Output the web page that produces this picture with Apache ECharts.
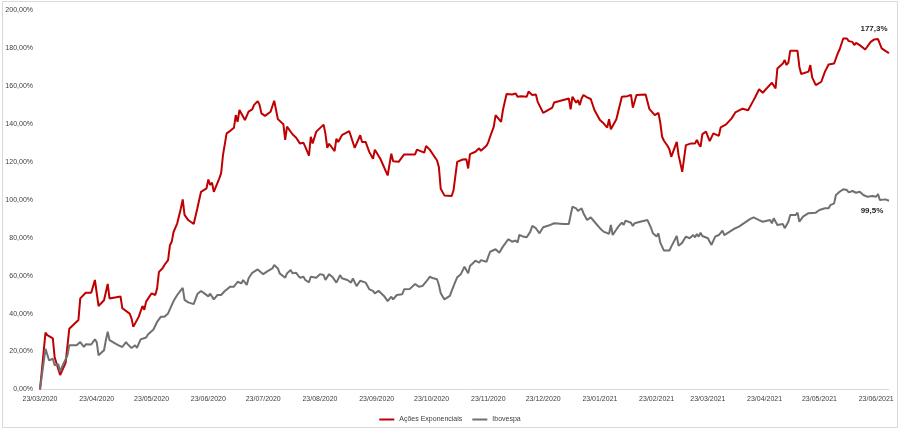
<!DOCTYPE html>
<html>
<head>
<meta charset="utf-8">
<script src="https://cdn.jsdelivr.net/npm/echarts@6/dist/echarts.min.js"></script>
<style>
html,body{margin:0;padding:0;background:#fff;}
#chart{width:900px;height:430px;}
</style>
</head>
<body>
<div id="chart"></div>
<script>
// ---- data ----
const seriesNames = ['Ações Exponenciais', 'Ibovespa'];
const xTickDates = ['2020-03-23','2020-04-23','2020-05-23','2020-06-23','2020-07-23','2020-08-23','2020-09-23','2020-10-23','2020-11-23','2020-12-23','2021-01-23','2021-02-23','2021-03-23','2021-04-23','2021-05-23','2021-06-23'];
const xStart = '2020-03-23';
const xEnd = '2021-06-30';
const yTicks = [0,20,40,60,80,100,120,140,160,180,200];

const acoesDates = ['2020-03-23','2020-03-26','2020-03-27','2020-03-30','2020-03-31','2020-04-03','2020-04-06','2020-04-08','2020-04-09','2020-04-13','2020-04-14','2020-04-15','2020-04-17','2020-04-20','2020-04-22','2020-04-23','2020-04-24','2020-04-27','2020-04-29','2020-04-30','2020-05-06','2020-05-07','2020-05-11','2020-05-12','2020-05-13','2020-05-16','2020-05-18','2020-05-19','2020-05-20','2020-05-21','2020-05-23','2020-05-25','2020-05-26','2020-05-27','2020-05-29','2020-05-30','2020-06-01','2020-06-02','2020-06-03','2020-06-04','2020-06-06','2020-06-08','2020-06-09','2020-06-10','2020-06-12','2020-06-15','2020-06-16','2020-06-17','2020-06-19','2020-06-22','2020-06-23','2020-06-24','2020-06-25','2020-06-26','2020-06-29','2020-06-30','2020-07-01','2020-07-02','2020-07-03','2020-07-05','2020-07-07','2020-07-08','2020-07-09','2020-07-10','2020-07-13','2020-07-15','2020-07-17','2020-07-18','2020-07-20','2020-07-21','2020-07-22','2020-07-24','2020-07-27','2020-07-29','2020-07-30','2020-07-31','2020-08-03','2020-08-04','2020-08-05','2020-08-08','2020-08-10','2020-08-11','2020-08-12','2020-08-14','2020-08-15','2020-08-17','2020-08-18','2020-08-19','2020-08-21','2020-08-22','2020-08-25','2020-08-26','2020-08-27','2020-08-28','2020-08-31','2020-09-01','2020-09-02','2020-09-04','2020-09-08','2020-09-11','2020-09-14','2020-09-15','2020-09-17','2020-09-19','2020-09-21','2020-09-22','2020-09-25','2020-09-29','2020-10-01','2020-10-02','2020-10-05','2020-10-07','2020-10-08','2020-10-14','2020-10-15','2020-10-19','2020-10-20','2020-10-22','2020-10-23','2020-10-26','2020-10-27','2020-10-28','2020-10-29','2020-10-30','2020-11-03','2020-11-04','2020-11-06','2020-11-09','2020-11-10','2020-11-11','2020-11-12','2020-11-13','2020-11-16','2020-11-18','2020-11-19','2020-11-22','2020-11-23','2020-11-24','2020-11-26','2020-11-27','2020-11-30','2020-12-01','2020-12-03','2020-12-06','2020-12-08','2020-12-09','2020-12-10','2020-12-11','2020-12-14','2020-12-15','2020-12-17','2020-12-19','2020-12-20','2020-12-23','2020-12-28','2020-12-29','2021-01-04','2021-01-06','2021-01-07','2021-01-08','2021-01-10','2021-01-11','2021-01-12','2021-01-13','2021-01-14','2021-01-16','2021-01-18','2021-01-20','2021-01-23','2021-01-25','2021-01-27','2021-01-28','2021-01-29','2021-02-01','2021-02-04','2021-02-05','2021-02-07','2021-02-09','2021-02-10','2021-02-12','2021-02-17','2021-02-19','2021-02-22','2021-02-24','2021-02-25','2021-02-26','2021-02-27','2021-03-01','2021-03-02','2021-03-03','2021-03-06','2021-03-07','2021-03-09','2021-03-11','2021-03-14','2021-03-15','2021-03-16','2021-03-17','2021-03-18','2021-03-19','2021-03-20','2021-03-22','2021-03-23','2021-03-24','2021-03-26','2021-03-29','2021-03-30','2021-04-02','2021-04-05','2021-04-07','2021-04-11','2021-04-14','2021-04-17','2021-04-18','2021-04-20','2021-04-22','2021-04-27','2021-04-28','2021-04-29','2021-04-30','2021-05-03','2021-05-04','2021-05-05','2021-05-06','2021-05-07','2021-05-11','2021-05-12','2021-05-13','2021-05-17','2021-05-18','2021-05-19','2021-05-21','2021-05-24','2021-05-26','2021-05-28','2021-05-31','2021-06-02','2021-06-03','2021-06-05','2021-06-07','2021-06-08','2021-06-10','2021-06-11','2021-06-12','2021-06-14','2021-06-15','2021-06-17','2021-06-18','2021-06-20','2021-06-22','2021-06-23','2021-06-24','2021-06-26','2021-06-28','2021-06-30'];
const acoesValues = [0,30,28.7,27,17,7.6,14,32,33,36.6,48,49,51,51,57.7,56.8,44,47,55.6,48,49,42.8,40,37.5,33,38.4,44,42,46.3,45.4,50.7,49.8,53.3,62,63.9,65.6,68.2,76,77.9,83,87.6,95.5,100.2,92,89.3,87.2,87.9,95.5,104.2,106,110.7,107.8,109,104.2,111.3,114,123.5,124.5,135,136.3,138,144.6,141,147.3,142,146.4,147.6,150,152,150,145.5,144.2,146.4,152.2,152.2,142.5,139.8,131.5,138.5,134.5,132.7,133.2,129.7,130,127.9,123.2,133.2,129.7,135.9,136.5,139.6,134.7,127.3,129.5,125.6,132.2,130.4,134,136.2,127.3,134,130.4,130.4,125.1,121.6,126.4,121.6,112.8,124.3,120.3,120,122.6,123.9,123.9,126.4,124.8,128.3,126.4,125.6,120.7,117.2,105.8,106.7,102.3,102,105,120,121.2,122.2,121.4,116.5,124,125.3,127.1,125.8,128.4,130.4,133.2,138.5,144.6,141.1,147.3,155.7,155.5,156,154.3,153.4,154.6,154.3,157,155.2,155.5,151.6,145.8,148.6,151.3,152.8,153.4,147.6,154.3,151.1,152.5,149.9,153.4,155.2,154,153.1,147.3,142,140.3,138,142.4,137.1,142.4,154.3,153.9,154.6,155.2,148.5,155.2,155.5,147.9,144.6,145.8,140.6,133.2,131.1,128.3,126.5,122.6,130.5,123.5,114.7,128.8,129.7,130.5,129.7,131.5,129.4,127.9,134.6,135.9,135.5,130.9,135,133.7,138.1,139.7,142.9,146,148,147.2,152.5,154.3,158.2,156.4,161.7,161.3,158.7,169.2,171.8,173.6,171,172.3,178.5,178.5,170.1,166.3,167.5,171,164.5,160.4,162.2,167.5,171.3,171.8,177.1,179.2,185,185,183.6,183.2,181.5,182.7,181.5,182.3,179.2,178.9,183.2,184.5,183.8,184.7,179.8,178.5,177.3];

const iboveDates = ['2020-03-23','2020-03-26','2020-03-28','2020-03-30','2020-03-31','2020-04-01','2020-04-02','2020-04-03','2020-04-04','2020-04-07','2020-04-08','2020-04-09','2020-04-12','2020-04-14','2020-04-16','2020-04-17','2020-04-20','2020-04-22','2020-04-23','2020-04-24','2020-04-27','2020-04-28','2020-04-29','2020-04-30','2020-05-03','2020-05-05','2020-05-06','2020-05-07','2020-05-09','2020-05-10','2020-05-12','2020-05-14','2020-05-15','2020-05-17','2020-05-18','2020-05-20','2020-05-21','2020-05-22','2020-05-24','2020-05-25','2020-05-26','2020-05-28','2020-05-30','2020-06-01','2020-06-03','2020-06-04','2020-06-06','2020-06-08','2020-06-09','2020-06-10','2020-06-12','2020-06-15','2020-06-17','2020-06-19','2020-06-21','2020-06-23','2020-06-24','2020-06-26','2020-06-28','2020-06-30','2020-07-02','2020-07-05','2020-07-06','2020-07-07','2020-07-09','2020-07-11','2020-07-12','2020-07-14','2020-07-15','2020-07-17','2020-07-20','2020-07-21','2020-07-23','2020-07-25','2020-07-28','2020-07-29','2020-07-31','2020-08-01','2020-08-02','2020-08-04','2020-08-05','2020-08-07','2020-08-08','2020-08-10','2020-08-12','2020-08-14','2020-08-15','2020-08-17','2020-08-18','2020-08-21','2020-08-23','2020-08-25','2020-08-26','2020-08-28','2020-08-30','2020-08-31','2020-09-01','2020-09-03','2020-09-04','2020-09-07','2020-09-09','2020-09-10','2020-09-12','2020-09-14','2020-09-17','2020-09-19','2020-09-21','2020-09-22','2020-09-24','2020-09-27','2020-09-29','2020-10-01','2020-10-02','2020-10-04','2020-10-07','2020-10-08','2020-10-11','2020-10-12','2020-10-14','2020-10-16','2020-10-18','2020-10-20','2020-10-22','2020-10-24','2020-10-26','2020-10-27','2020-10-28','2020-10-29','2020-10-30','2020-11-02','2020-11-03','2020-11-05','2020-11-06','2020-11-08','2020-11-10','2020-11-11','2020-11-12','2020-11-13','2020-11-16','2020-11-18','2020-11-19','2020-11-22','2020-11-23','2020-11-24','2020-11-27','2020-11-29','2020-12-01','2020-12-02','2020-12-04','2020-12-06','2020-12-08','2020-12-09','2020-12-10','2020-12-12','2020-12-14','2020-12-16','2020-12-17','2020-12-19','2020-12-21','2020-12-23','2020-12-26','2020-12-29','2021-01-03','2021-01-06','2021-01-08','2021-01-10','2021-01-11','2021-01-13','2021-01-14','2021-01-15','2021-01-16','2021-01-17','2021-01-18','2021-01-20','2021-01-21','2021-01-23','2021-01-25','2021-01-28','2021-01-29','2021-01-30','2021-02-02','2021-02-04','2021-02-05','2021-02-06','2021-02-09','2021-02-10','2021-02-11','2021-02-14','2021-02-18','2021-02-20','2021-02-21','2021-02-23','2021-02-24','2021-02-25','2021-02-27','2021-03-02','2021-03-03','2021-03-06','2021-03-07','2021-03-09','2021-03-11','2021-03-13','2021-03-15','2021-03-16','2021-03-17','2021-03-18','2021-03-19','2021-03-20','2021-03-23','2021-03-25','2021-03-27','2021-03-29','2021-03-31','2021-04-01','2021-04-04','2021-04-07','2021-04-09','2021-04-10','2021-04-15','2021-04-17','2021-04-20','2021-04-22','2021-04-23','2021-04-26','2021-04-27','2021-04-28','2021-04-30','2021-05-03','2021-05-04','2021-05-06','2021-05-07','2021-05-10','2021-05-11','2021-05-12','2021-05-14','2021-05-17','2021-05-18','2021-05-21','2021-05-23','2021-05-24','2021-05-26','2021-05-28','2021-05-29','2021-05-31','2021-06-01','2021-06-03','2021-06-05','2021-06-07','2021-06-08','2021-06-10','2021-06-12','2021-06-14','2021-06-16','2021-06-18','2021-06-19','2021-06-21','2021-06-23','2021-06-24','2021-06-25','2021-06-28','2021-06-29','2021-06-30'];
const iboveValues = [0,21.5,15.3,16.2,12.8,11.9,13.3,9.3,11.9,18,23.3,22.4,23.3,25,22.4,23.8,23.7,26.4,25,18,20.7,26,30.4,26,24.3,23.3,24.3,22.4,25,23.8,21.9,23.3,21.9,26.4,25.6,27.4,29,28.1,31.6,32.2,35.6,38.3,38.3,40.1,44.5,46.6,49.8,52.4,53.6,47.2,45.9,45,50.3,51.9,50.5,49.1,50.5,47.5,49.8,49.8,51.9,54.2,55.1,54.2,56.8,55.9,57.7,55.1,58.6,61.5,63.3,63.8,60.8,62.1,63.8,65.6,63.8,61.2,61.5,58.9,61.2,63,61.2,61.5,58.9,59.4,57.7,56.5,59.4,58.9,60.8,60.3,57.7,60.8,59.1,59.8,56.3,60.3,58.6,57.7,56.3,58.6,54.5,57.3,56.3,52.8,52,50.7,52,49.3,46.6,48.9,47.5,49.8,50.2,52.8,52.9,52.4,55.6,54.2,54.5,56.8,59.4,58.6,58.1,55.1,50.7,51.5,47.5,49.3,52,56.8,59.1,60.8,64.7,63.8,61.2,65.1,67.9,66.8,68.2,67.3,70,72.6,73.9,72.1,75.3,76.2,79.2,77.9,78.5,77.4,81.5,80.6,80.2,83.2,86.2,85,82.3,85.5,86.4,87.6,87.2,87.2,96.4,95.5,94.1,95.5,92.9,93.7,89.3,89.3,90.7,88.4,87.6,85,83.2,82,86.7,81.4,85.8,87.9,86.7,89,87.9,86.2,87.6,88.4,89.3,85,82.3,80.6,82.3,77.4,73.2,73.2,75.3,80.9,75.7,77.4,80.6,79.7,81.4,80.2,81.9,80.6,82.6,80.9,79.7,76.2,80.6,81.4,83.7,81.4,83.2,85,85.8,85,89.8,90.7,89.3,88.4,89.3,89.3,87.6,90.2,86.7,87.2,85,88.4,92,92,93.2,88.4,91.1,92.9,93.2,93.2,94.6,93.7,95.5,95.5,97.2,98.1,102.5,104.2,105.5,105.1,103.9,104.6,103.7,104.2,102.5,101.6,102.5,102,101.6,103,99.9,100.2,99.9,99.5];

// ---- chart ----
const FONT = 'Liberation Sans';
const RED = '#C00000';
const GRAY = '#707070';
const TXT = '#404040';

function parseLocal(s) {
  const p = s.split('-').map(Number);
  return new Date(p[0], p[1] - 1, p[2]).getTime();
}
function pad(n) { return (n < 10 ? '0' : '') + n; }
function fmtDate(ts) {
  const d = new Date(ts);
  return pad(d.getDate()) + '/' + pad(d.getMonth() + 1) + '/' + d.getFullYear();
}
function pairs(dates, values) {
  return dates.map((d, i) => [parseLocal(d), values[i]]);
}
function pct1(v) { return v.toFixed(1).replace('.', ',') + '%'; }

const chart = echarts.init(document.getElementById('chart'), null, { renderer: 'canvas' });

const lastA = acoesDates.length - 1;
const lastI = iboveDates.length - 1;

chart.setOption({
  animation: false,
  backgroundColor: '#fff',
  textStyle: { fontFamily: FONT },
  graphic: [{
    type: 'rect',
    shape: { x: 2.5, y: 1.5, width: 895, height: 426 },
    style: { fill: 'none', stroke: '#d9d9d9', lineWidth: 1 },
    silent: true
  }],
  grid: { left: 40, right: 11, top: 10, bottom: 40.5, containLabel: false },
  legend: {
    data: seriesNames,
    left: 'center',
    top: 411,
    icon: 'rect',
    itemWidth: 15,
    itemHeight: 2,
    itemGap: 10,
    textStyle: { fontFamily: FONT, fontSize: 7, color: TXT }
  },
  xAxis: {
    type: 'value',
    min: parseLocal(xStart),
    max: parseLocal(xEnd),
    axisLine: { show: true, lineStyle: { color: '#d9d9d9', width: 1 } },
    axisTick: { show: false },
    splitLine: { show: false },
    axisLabel: {
      customValues: xTickDates.map(parseLocal),
      formatter: function (v) { return fmtDate(v); },
      fontFamily: FONT,
      fontSize: 7,
      color: TXT,
      margin: 6,
      hideOverlap: false,
      showMinLabel: true,
      showMaxLabel: true
    }
  },
  yAxis: {
    type: 'value',
    min: yTicks[0],
    max: yTicks[yTicks.length - 1],
    interval: yTicks[1] - yTicks[0],
    axisLine: { show: false },
    axisTick: { show: false },
    splitLine: { show: false },
    axisLabel: {
      formatter: function (v) { return v.toFixed(2).replace('.', ',') + '%'; },
      fontFamily: FONT,
      fontSize: 7,
      color: TXT,
      margin: 7
    }
  },
  series: [
    {
      name: seriesNames[0],
      type: 'line',
      data: pairs(acoesDates, acoesValues),
      showSymbol: false,
      symbol: 'none',
      color: RED,
      lineStyle: { color: RED, width: 2 },
      z: 2,
      markPoint: {
        symbol: 'circle',
        symbolSize: 0,
        label: {
          show: true, position: 'inside', offset: [-15, -24],
          fontFamily: FONT, fontSize: 8, fontWeight: 'bold', color: '#262626',
          formatter: function (p) { return pct1(p.value); }
        },
        data: [{ coord: [parseLocal(acoesDates[lastA]), acoesValues[lastA]], value: acoesValues[lastA] }]
      }
    },
    {
      name: seriesNames[1],
      type: 'line',
      data: pairs(iboveDates, iboveValues),
      showSymbol: false,
      symbol: 'none',
      color: GRAY,
      lineStyle: { color: GRAY, width: 2 },
      z: 3,
      markPoint: {
        symbol: 'circle',
        symbolSize: 0,
        label: {
          show: true, position: 'inside', offset: [-17, 10],
          fontFamily: FONT, fontSize: 8, fontWeight: 'bold', color: '#262626',
          formatter: function (p) { return pct1(p.value); }
        },
        data: [{ coord: [parseLocal(iboveDates[lastI]), iboveValues[lastI]], value: iboveValues[lastI] }]
      }
    }
  ]
});
</script>
</body>
</html>
